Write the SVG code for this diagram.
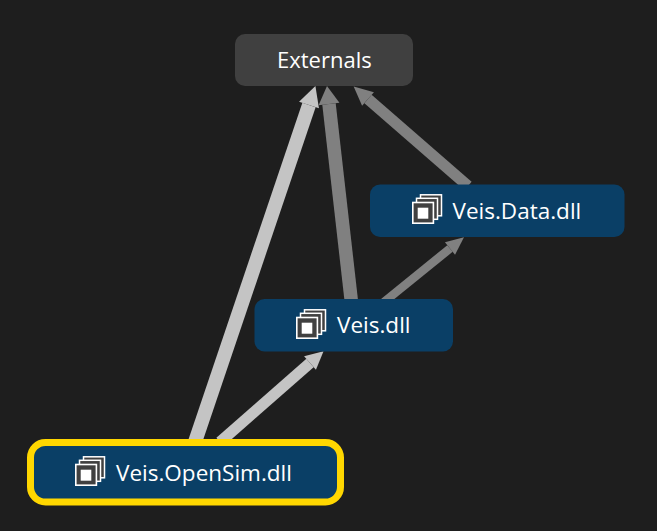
<svg xmlns="http://www.w3.org/2000/svg" xmlns:xlink="http://www.w3.org/1999/xlink" width="657" height="531" viewBox="0 0 657 531">
<style>
.n{fill:#0a3f66}
.t{font-family:"Open Sans","Noto Sans","Liberation Sans",sans-serif;font-size:22.500px;fill:#fff}
.light{stroke:#c4c4c4;fill:none}
.dark{stroke:#808080;fill:none}
</style>
<defs>
<marker id="hl" markerUnits="userSpaceOnUse" markerWidth="24" markerHeight="24" refX="1" refY="12" orient="auto"><path d="M1 1.500L21 12L1 22.500Z" fill="#c4c4c4"/></marker>
<marker id="hd" markerUnits="userSpaceOnUse" markerWidth="24" markerHeight="24" refX="1" refY="12" orient="auto"><path d="M1 1.500L19 12L1 22.500Z" fill="#808080"/></marker>
<marker id="hdm" markerUnits="userSpaceOnUse" markerWidth="24" markerHeight="24" refX="1" refY="12" orient="auto"><path d="M1 3L20 12L1 21Z" fill="#808080"/></marker>
<marker id="hds" markerUnits="userSpaceOnUse" markerWidth="24" markerHeight="24" refX="1" refY="12" orient="auto"><path d="M1 4L19 12L1 20Z" fill="#808080"/></marker>
<marker id="hls" markerUnits="userSpaceOnUse" markerWidth="24" markerHeight="24" refX="1" refY="12" orient="auto"><path d="M1 3L19 12L1 21Z" fill="#c4c4c4"/></marker>
<g id="icon">
<rect x="8.500" y="0.800" width="21" height="21" fill="#404040" stroke="#fff" stroke-width="1.500"/>
<rect x="4.500" y="4.300" width="21" height="21" fill="#404040" stroke="#fff" stroke-width="1.500"/>
<rect x="0.800" y="8.500" width="20.600" height="20.700" fill="#404040" stroke="#fff" stroke-width="1.600"/>
<rect x="5.700" y="13.700" width="10.600" height="11" fill="#fff"/>
</g>
</defs>
<rect width="657" height="531" fill="#1e1e1e"/>
<g id="connectors">
<line class="light" x1="195" y1="442" x2="309" y2="105" stroke-width="14" marker-end="url(#hl)"/>
<line class="light" x1="220" y1="442" x2="310" y2="363" stroke-width="11" marker-end="url(#hls)"/>
<line class="dark" x1="351.200" y1="300" x2="329" y2="104" stroke-width="13.500" marker-end="url(#hd)"/>
<line class="dark" x1="384" y1="302" x2="450" y2="248.500" stroke-width="8.500" marker-end="url(#hds)"/>
<line class="dark" x1="468" y1="186" x2="368" y2="99" stroke-width="11" marker-end="url(#hdm)"/>
</g>
<g id="externals">
<rect x="235" y="34" width="178" height="52" rx="10" fill="#404040"/>
<text class="t" x="277" y="68.300" style="font-size:22px">Externals</text>
</g>
<g id="veis-data">
<rect class="n" x="370" y="184.500" width="254.500" height="52.500" rx="10"/>
<use xlink:href="#icon" href="#icon" x="412" y="194"/>
<text class="t" x="452.500" y="219.300">Veis.Data.dll</text>
</g>
<g id="veis">
<rect class="n" x="254.500" y="299" width="198.500" height="52.500" rx="10"/>
<use xlink:href="#icon" href="#icon" x="296" y="309"/>
<text class="t" x="337" y="333.300">Veis.dll</text>
</g>
<g id="veis-opensim">
<rect class="n" x="30.500" y="442.500" width="310" height="59.500" rx="15" stroke="#ffd700" stroke-width="7"/>
<use xlink:href="#icon" href="#icon" x="75" y="456"/>
<text class="t" x="116" y="480.700">Veis.OpenSim.dll</text>
</g>
</svg>
